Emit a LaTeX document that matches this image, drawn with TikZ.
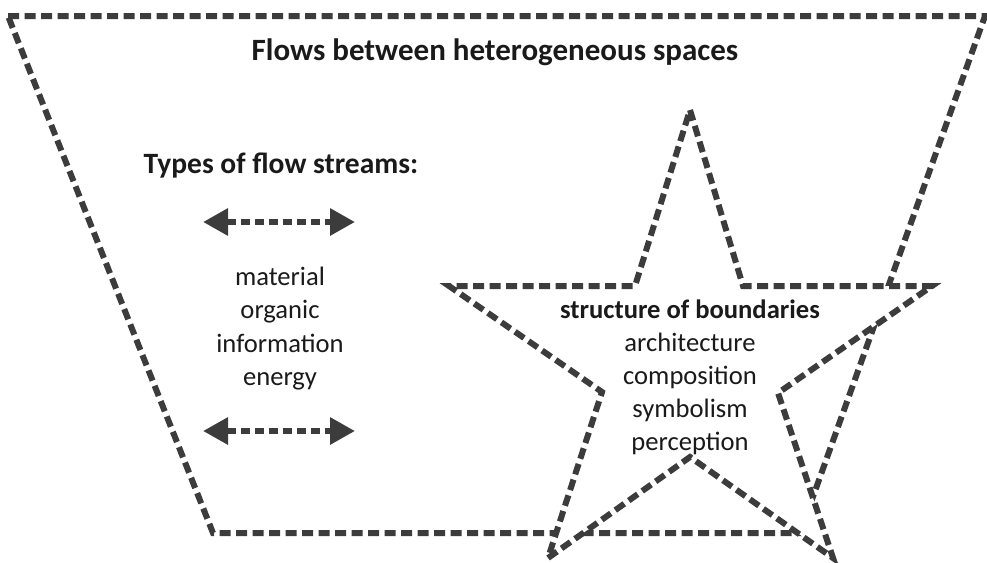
\documentclass[tikz,border=0pt]{standalone}
\usepackage{fontspec}
\setmainfont{Carlito}
\usetikzlibrary{arrows.meta}
\definecolor{linegray}{HTML}{3C3C3C}
\definecolor{textgray}{HTML}{1A1A1A}
\begin{document}
\begin{tikzpicture}[x=1pt,y=-1pt,
  boundary/.style={draw=linegray,line width=6pt,dash pattern=on 11pt off 5.5pt,line join=miter},
  flowarrow/.style={draw=linegray,line width=6pt,dash pattern=on 9pt off 5pt,
    {Triangle[length=25pt,width=26pt]}-{Triangle[length=25pt,width=26pt]}},
  titletext/.style={font=\bfseries\fontsize{31}{37}\selectfont,text=textgray,inner sep=0pt,anchor=base},
  headtext/.style={font=\bfseries\fontsize{29.5}{35}\selectfont,text=textgray,inner sep=0pt,anchor=base},
  itemtext/.style={font=\fontsize{26.6}{33}\selectfont,text=textgray,inner sep=0pt,anchor=base}
]
\useasboundingbox (0,0) rectangle (987,562);

% outer trapezoid
\draw[boundary] (8,16) -- (985,16) -- (800,533) -- (213,533) -- cycle;

% star (white filled, hides the trapezoid parts inside it)
\draw[boundary,fill=white] (690,110) -- (743,286) -- (932,286) -- (778,393) -- (833,558)
  -- (690,457) -- (548,558) -- (602,392) -- (449,286) -- (635,286) -- cycle;

% texts
\node[titletext] (title) at (495,60) {Flows between heterogeneous spaces};
\node[headtext] (types) at (281,173) {Types of flow streams:};

\node[itemtext] (m1) at (280,285) {material};
\node[itemtext] (m2) at (280,318) {organic};
\node[itemtext] (m3) at (280,352) {information};
\node[itemtext] (m4) at (280,385) {energy};

\node[headtext,font=\bfseries\fontsize{26.6}{33}\selectfont] (s0) at (690,318) {structure of boundaries};
\node[itemtext] (s1) at (690,351) {architecture};
\node[itemtext] (s2) at (690,384) {composition};
\node[itemtext] (s3) at (690,417) {symbolism};
\node[itemtext] (s4) at (690,450) {perception};

% flow arrows
\coordinate (a1l) at (203,222);
\coordinate (a1r) at (355,222);
\coordinate (a2l) at (203,431);
\coordinate (a2r) at (355,431);
\draw[flowarrow] (a1l) -- (a1r);
\draw[flowarrow] (a2l) -- (a2r);
\end{tikzpicture}
\end{document}
